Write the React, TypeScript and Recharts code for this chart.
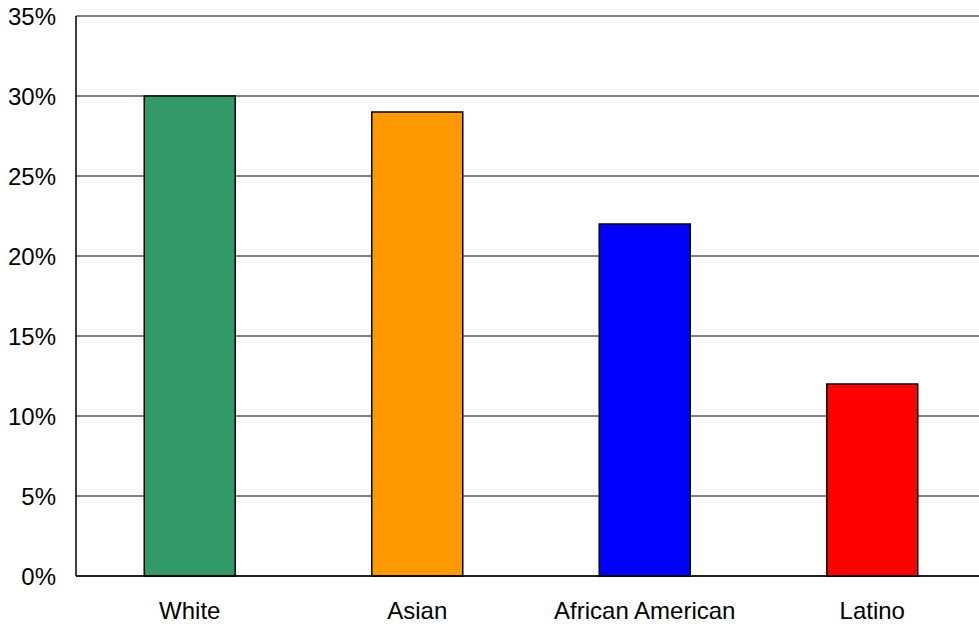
import React from 'react'
import { BarChart, Bar, XAxis, YAxis, CartesianGrid, Cell } from 'recharts'

const groups = ['White', 'Asian', 'African American', 'Latino']
const shares = [30, 29, 22, 12]
const barColors = ['#339966', '#FF9900', '#0000FF', '#FF0000']
const yTicks = [0, 5, 10, 15, 20, 25, 30, 35]

const data = groups.map((name, i) => ({ name, value: shares[i] }))

const font = { fill: '#000', fontSize: 24, fontFamily: 'Liberation Sans, Arial, sans-serif' }

export default function App() {
  return (
    <div style={{ position: 'absolute', left: 0, top: 0, width: 979, height: 626, overflow: 'hidden', background: '#fff' }}>
      <BarChart
        width={979}
        height={626}
        data={data}
        margin={{ top: 16, right: -7, bottom: 0, left: 0 }}
        barCategoryGap="30%"
      >
        <CartesianGrid vertical={false} stroke="#000" strokeWidth={1} />
        <XAxis
          dataKey="name"
          height={50}
          tickLine={false}
          tickSize={0}
          tickMargin={26}
          axisLine={{ stroke: '#000', strokeWidth: 1.5 }}
          tick={font}
          interval={0}
        />
        <YAxis
          width={76}
          domain={[0, 35]}
          ticks={yTicks}
          tickFormatter={(v) => `${v}%`}
          tickLine={false}
          tickSize={0}
          tickMargin={20}
          axisLine={{ stroke: '#000', strokeWidth: 1.5 }}
          tick={font}
          interval={0}
        />
        <Bar dataKey="value" stroke="#000" strokeWidth={1.5} isAnimationActive={false}>
          {data.map((d, i) => (
            <Cell key={d.name} fill={barColors[i]} />
          ))}
        </Bar>
      </BarChart>
    </div>
  )
}
